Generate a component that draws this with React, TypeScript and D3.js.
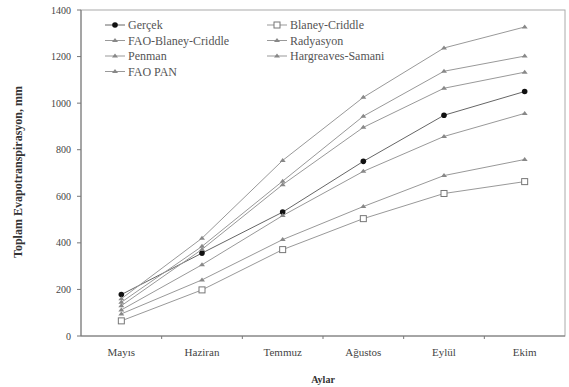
import React from "react";
import * as d3 from "d3";

const months = ["Mayıs", "Haziran", "Temmuz", "Ağustos", "Eylül", "Ekim"];
const yTicks = [0, 200, 400, 600, 800, 1000, 1200, 1400];

const gercek = [178, 356, 532, 750, 948, 1050];
const faoBlaneyCriddle = [160, 420, 754, 1025, 1237, 1327];
const radyasyon = [145, 385, 665, 944, 1137, 1202];
const penman = [130, 372, 650, 896, 1064, 1133];
const faoPan = [112, 306, 517, 707, 857, 956];
const hargreaves = [95, 241, 414, 556, 689, 758];
const blaneyCriddle = [65, 198, 371, 504, 612, 663];

const seriesNames = ["Gerçek", "FAO-Blaney-Criddle", "Penman", "FAO PAN", "Blaney-Criddle", "Radyasyon", "Hargreaves-Samani"];
const seriesValues = [gercek, faoBlaneyCriddle, penman, faoPan, blaneyCriddle, radyasyon, hargreaves];
const seriesMarkers = ["circle", "tri", "tri", "tri", "square", "tri", "tri"];

const W = 569, H = 387;
const M = { left: 81, right: 565, top: 10, bottom: 336 };
const FONT = "Liberation Serif";

function Marker({ type, x, y }: { type: string; x: number; y: number }) {
  if (type === "circle") return <circle cx={x} cy={y} r={2.8} fill="#111" />;
  if (type === "square")
    return <rect x={x - 3} y={y - 3} width={6} height={6} fill="#fff" stroke="#777" strokeWidth={1} />;
  return <path d={`M${x - 3},${y + 1.5}L${x + 3},${y + 1.5}L${x},${y - 2.5}Z`} fill="#888" />;
}

export default function App() {
  const x = d3.scaleBand<string>().domain(months).range([M.left, M.right]);
  const y = d3.scaleLinear().domain([0, 1400]).range([M.bottom, M.top]);
  const cx = (m: string) => (x(m) ?? 0) + x.bandwidth() / 2;
  const line = d3.line<number>().x((_, i) => cx(months[i])).y((v) => y(v));
  const ts = { fontFamily: FONT };

  const legendPos = (i: number) =>
    i < 4 ? { lx: 105, ly: 25 + i * 15.5 } : { lx: 267, ly: 25 + (i - 4) * 15.5 };

  return (
    <svg width={W} height={H} style={{ position: "absolute", left: 0, top: 0, background: "#fff" }}>
      <rect x={M.left} y={M.top} width={M.right - M.left} height={M.bottom - M.top} fill="none" stroke="#aaa" strokeWidth={1} />
      <line x1={M.left} x2={M.left} y1={M.top} y2={M.bottom} stroke="#777" />
      <line x1={M.left} x2={M.right} y1={M.bottom} y2={M.bottom} stroke="#777" />
      {yTicks.map((t) => (
        <g key={t}>
          <line x1={M.left - 4} x2={M.left} y1={y(t)} y2={y(t)} stroke="#777" />
          <text style={ts} x={M.left - 10} y={y(t)} dy="0.35em" textAnchor="end" fontSize={10} fill="#444">{t}</text>
        </g>
      ))}
      {months.slice(1).map((m) => (
        <line key={m} x1={x(m)} x2={x(m)} y1={M.bottom} y2={M.bottom + 3} stroke="#777" />
      ))}
      {months.map((m) => (
        <text style={ts} key={m} x={cx(m)} y={352} dy="0.35em" textAnchor="middle" fontSize={11} fill="#444">{m}</text>
      ))}
      <text style={ts} x={(M.left + M.right) / 2} y={379} dy="0.35em" textAnchor="middle" fontSize={10} fontWeight="bold" fill="#333">Aylar</text>
      <text style={ts} transform={`translate(18,172) rotate(-90)`} textAnchor="middle" dy="0.35em" fontSize={12} fontWeight="bold" fill="#333">Toplam Evapotranspirasyon, mm</text>

      {seriesValues.map((vals, si) => (
        <g key={si}>
          <path d={line(vals) ?? ""} fill="none" stroke={si === 0 ? "#666" : "#999"} strokeWidth={1} />
          {vals.map((v, i) => (
            <Marker key={i} type={seriesMarkers[si]} x={cx(months[i])} y={y(v)} />
          ))}
        </g>
      ))}

      {seriesNames.map((n, i) => {
        const { lx, ly } = legendPos(i);
        return (
          <g key={n}>
            <line x1={lx} x2={lx + 20} y1={ly} y2={ly} stroke={i === 0 ? "#666" : "#999"} />
            <Marker type={seriesMarkers[i]} x={lx + 10} y={ly} />
            <text style={ts} x={lx + 23} y={ly} dy="0.35em" fontSize={12} fill="#555">{n}</text>
          </g>
        );
      })}
    </svg>
  );
}
